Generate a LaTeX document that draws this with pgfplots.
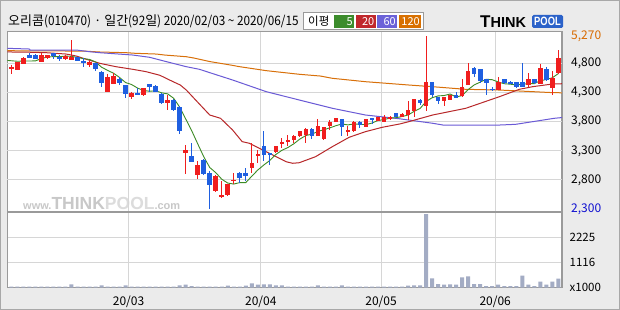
\documentclass[border=0pt]{standalone}
\usepackage{pgfplots}
\pgfplotsset{compat=1.18}
\usepackage{pgfplotstable}
\usepackage{graphicx}
\usepackage{fontspec}
\setmainfont{Noto Sans CJK KR}
\newfontfamily\narrowfont{Noto Sans CJK KR}[FakeStretch=0.905]
\newfontfamily\logofont{Liberation Sans}
\definecolor{bgc}{HTML}{EBEBEB}
\definecolor{outc}{HTML}{A8A8A8}
\definecolor{cup}{HTML}{F01E1E}
\definecolor{cdn}{HTML}{1F5FE0}
\definecolor{maA}{HTML}{3D8B25}
\definecolor{maB}{HTML}{B8282A}
\definecolor{maC}{HTML}{6A5AD6}
\definecolor{maD}{HTML}{D8700A}
\definecolor{cvol}{HTML}{A3ACC4}
\definecolor{gridc}{HTML}{D6D6D6}
\definecolor{framec}{HTML}{9A9A9A}
\definecolor{pblue}{HTML}{2B62C9}
\definecolor{lblue}{HTML}{1010D0}
\definecolor{lorange}{HTML}{D86A00}
\definecolor{wm}{HTML}{C8C8C8}
\definecolor{wmb}{HTML}{DCDCDC}
\definecolor{lgA}{HTML}{3C8C2C}
\definecolor{lgB}{HTML}{C0282C}
\definecolor{lgC}{HTML}{6B62D8}
\definecolor{lgD}{HTML}{D87000}

\pgfplotstableread{
i o h l c
0 4720 4770 4610 4730
1 4690 4830 4680 4815
2 4795 4900 4790 4890
5 4830 4980 4820 4940
6 4885 4950 4880 4940
9 4875 4935 4860 4925
10 4856 5197 4850 4913
13 4776 4840 4732 4828
16 4316 4612 4310 4570
17 4442 4630 4440 4583
20 4230 4300 4196 4293
22 4265 4380 4242 4374
26 4128 4259 4003 4174
29 3258 3406 2906 3309
31 2882 3121 2809 3053
34 2610 2880 2600 2866
35 2507 2781 2497 2542
36 2542 2730 2530 2723
37 2790 2923 2723 2805
40 2997 3435 2920 3093
41 3207 3321 3093 3252
44 3275 3390 3260 3377
45 3412 3520 3350 3446
46 3446 3577 3377 3492
47 3480 3577 3440 3560
48 3548 3640 3540 3633
49 3577 3690 3435 3679
51 3560 3845 3555 3731
52 3508 3715 3492 3708
53 3719 3833 3662 3793
54 3799 3870 3795 3862
56 3616 3719 3560 3650
57 3633 3810 3630 3799
59 3702 3850 3700 3845
61 3816 3880 3810 3872
62 3793 3918 3790 3872
63 3845 3890 3835 3879
65 3879 3950 3875 3935
66 3918 4162 3833 4003
67 3986 4190 3885 4186
69 4060 5270 3975 4476
72 4162 4225 4060 4220
73 4174 4265 4170 4259
75 4242 4527 4225 4391
76 4430 4800 4420 4669
81 4345 4572 4340 4476
86 4430 4630 4400 4527
88 4447 4788 4440 4715
90 4374 4675 4259 4544
91 4630 5027 4620 4885
}\upT

\pgfplotstableread{
i o h l c
3 4940 4970 4890 4895
4 4950 4960 4870 4875
7 4970 4975 4868 4925
8 4900 4940 4838 4890
11 4900 4910 4840 4845
12 4830 4885 4732 4825
14 4805 4810 4670 4710
15 4655 4660 4401 4460
18 4530 4572 4430 4460
19 4430 4435 4203 4276
21 4298 4374 4260 4265
23 4447 4450 4316 4396
24 4413 4420 4310 4316
25 4282 4285 4110 4118
27 4174 4180 3975 4003
28 4054 4060 3589 3633
30 3218 3435 3100 3104
32 3150 3155 2890 2894
33 2911 2951 2300 2712
38 2923 2930 2753 2838
39 2923 3009 2790 2866
42 3377 3633 3121 3235
43 3264 3270 3065 3230
50 3679 3690 3500 3560
55 3845 3850 3548 3708
58 3799 3805 3691 3748
60 3850 3870 3760 3840
64 3947 3950 3875 3879
68 4174 4190 4090 4128
70 4476 4480 4230 4259
71 4220 4225 4106 4157
74 4254 4300 4205 4213
77 4715 4730 4570 4612
78 4698 4705 4459 4503
79 4527 4530 4259 4459
80 4360 4400 4320 4352
82 4527 4530 4440 4459
83 4475 4500 4440 4465
84 4476 4480 4380 4401
85 4487 4800 4395 4401
87 4527 4530 4450 4459
89 4698 4740 4500 4515
}\dnT

\pgfplotstableread{
i v
0 45
1 45
2 45
3 45
4 45
5 45
6 45
7 45
8 45
9 45
10 147
11 45
12 45
13 45
14 45
15 103
16 45
17 45
18 45
19 103
20 45
21 45
22 45
23 45
24 45
25 45
26 45
27 45
28 103
29 132
30 74
31 45
32 45
33 45
34 45
35 45
36 88
37 45
38 45
39 88
40 191
41 132
42 147
43 147
44 103
45 103
46 45
47 45
48 45
49 45
50 45
51 103
52 45
53 45
54 45
55 103
56 45
57 45
58 45
59 45
60 45
61 45
62 45
63 45
64 45
65 45
66 88
67 103
68 103
69 3240
70 412
71 162
72 132
73 147
74 132
75 456
76 500
77 162
78 162
79 74
80 74
81 132
82 74
83 74
84 74
85 529
86 132
87 74
88 265
89 132
90 265
91 397
}\volT

\pgfplotstableread{
i v
-0.7 4850
1 4835
2 4838
3 4840
4 4841
5 4883
6 4908
7 4915
8 4914
9 4924
10 4919
11 4900
12 4880
13 4867
14 4824
15 4734
16 4679
17 4630
18 4557
19 4470
20 4436
21 4375
22 4334
23 4321
24 4329
25 4294
26 4276
27 4201
28 4049
29 3847
30 3645
31 3420
32 3199
33 3014
34 2926
35 2813
36 2747
37 2730
38 2755
39 2755
40 2865
41 2971
42 3057
43 3135
44 3237
45 3308
46 3356
47 3421
48 3502
49 3562
50 3585
51 3633
52 3662
53 3694
54 3731
55 3760
56 3744
57 3762
58 3753
59 3750
60 3776
61 3821
62 3835
63 3862
64 3868
65 3887
66 3914
67 3976
68 4026
69 4146
70 4210
71 4241
72 4248
73 4274
74 4222
75 4248
76 4350
77 4429
78 4478
79 4527
80 4519
81 4480
82 4450
83 4442
84 4431
85 4440
86 4451
87 4451
88 4501
89 4523
90 4552
91 4624
}\maAT

\pgfplotstableread{
i v
-0.7 4995
3 4990
5.8 4982
9.1 4959
10.8 4925
12.5 4868
14.7 4800
17.4 4742
20.2 4697
22.4 4657
24.7 4595
26.9 4485
28.1 4428
29.1 4342
31.3 4100
33 3914
34.8 3857
36.8 3657
38.4 3457
39.6 3429
42.4 3285
45.7 3113
46.8 3086
47.9 3096
50.6 3199
53.4 3371
56.2 3532
58.9 3628
61.7 3703
64.6 3760
66.1 3799
70.1 3914
75.6 4029
81.2 4228
84.5 4354
86.7 4399
90 4445
91.6 4450
}\maBT

\pgfplotstableread{
i v
-0.7 5057
3 5045
3.1 5028
10.8 5028
13 4999
14.7 4982
20.2 4942
23 4903
25.8 4828
29.1 4742
31.3 4697
33 4640
36.8 4514
42.4 4314
47.9 4171
53.4 4029
58.9 3914
64.5 3850
70.1 3772
71.8 3742
81.2 3742
83.9 3754
86.7 3799
90.3 3857
91.6 3870
}\maCT

\pgfplotstableread{
i v
-0.7 5016
9.1 5011
11.8 5011
14.7 4994
19.1 4982
20.7 4971
24.1 4959
25.5 4942
29.1 4913
30.4 4890
33 4830
36.8 4765
37.8 4745
42.4 4674
47.9 4612
51.4 4582
53.4 4543
58.9 4485
64.6 4440
66.1 4428
70.1 4399
75.6 4354
81.2 4342
90.3 4296
91.6 4295
}\maDT

\begin{document}
\begin{tikzpicture}
\path[use as bounding box] (0pt,0pt) rectangle (620pt,310pt);
\fill[bgc] (0pt,0pt) rectangle (620pt,310pt);
\draw[outc, line width=1pt] (0.5pt,0.5pt) rectangle (619.5pt,309.5pt);
\fill[white] (7.3pt,22.3pt) rectangle (562pt,278.3pt);
% watermark
\node[anchor=base west, inner sep=0pt] at (23pt,100.5pt) {\logofont\bfseries
  \textcolor{wm}{\fontsize{11}{11}\selectfont www.}%
  \textcolor{wm}{\fontsize{17.5}{17.5}\selectfont THINK}%
  \textcolor{wmb}{\fontsize{17.5}{17.5}\selectfont POOL}%
  \textcolor{wm}{\fontsize{11}{11}\selectfont .com}};

\begin{axis}[
  name=price,
  at={(7.3pt,98pt)}, anchor=south west, scale only axis,
  width=554.7pt, height=180.3pt,
  xmin=-0.68, xmax=91.61, ymin=2251, ymax=5342,
  axis line style={draw=framec, line width=1.2pt},
  xtick={19.5,41.5,61.5,80.5}, xticklabels={},
  xmajorgrids,
  ytick={2300,2800,3300,3800,4300,4800,5270},
  yticklabels={{\textcolor{lblue}{2,300}},{2,800},{3,300},{3,800},{4,300},{4,800},{\textcolor{lorange}{5,270}}},
  extra y ticks={2800,3300,3800,4300,4800},
  extra y tick labels={},
  extra y tick style={grid=major},
  grid style={draw=gridc, line width=1pt},
  major tick length=0pt,
  yticklabel pos=right,
  yticklabel style={anchor=west, inner sep=0pt, xshift=9pt, font=\fontsize{12}{12}\selectfont},
  /pgf/number format/assume math mode=true,
]
\addplot[maD, line width=1pt] table[x=i,y=v]{\maDT};
\addplot[maC, line width=1pt] table[x=i,y=v]{\maCT};
\addplot[maB, line width=1pt] table[x=i,y=v]{\maBT};
\addplot[maA, line width=0.9pt] table[x=i,y=v]{\maAT};
% wicks
\addplot[draw=none, error bars/.cd, y dir=both, y explicit, error mark=none,
  error bar style={draw=cup, line width=1pt}]
  table[x=i, y expr={(\thisrow{h}+\thisrow{l})/2}, y error expr={(\thisrow{h}-\thisrow{l})/2}]{\upT};
\addplot[draw=none, error bars/.cd, y dir=both, y explicit, error mark=none,
  error bar style={draw=cdn, line width=1pt}]
  table[x=i, y expr={(\thisrow{h}+\thisrow{l})/2}, y error expr={(\thisrow{h}-\thisrow{l})/2}]{\dnT};
% bodies
\addplot[draw=none, error bars/.cd, y dir=both, y explicit, error mark=none,
  error bar style={draw=cup, line width=4.6pt}]
  table[x=i, y expr={(\thisrow{o}+\thisrow{c})/2}, y error expr={max(abs(\thisrow{c}-\thisrow{o})/2,9)}]{\upT};
\addplot[draw=none, error bars/.cd, y dir=both, y explicit, error mark=none,
  error bar style={draw=cdn, line width=4.6pt}]
  table[x=i, y expr={(\thisrow{o}+\thisrow{c})/2}, y error expr={max(abs(\thisrow{c}-\thisrow{o})/2,9)}]{\dnT};
\end{axis}

\begin{axis}[
  name=vol,
  at={(7.3pt,22.3pt)}, anchor=south west, scale only axis,
  width=554.7pt, height=75.7pt,
  xmin=-0.68, xmax=91.61, ymin=0, ymax=3330,
  axis line style={draw=framec, line width=1.2pt},
  xtick={19.5,41.5,61.5,80.5}, xticklabels={20/03,20/04,20/05,20/06},
  xticklabel style={anchor=north, inner sep=0pt, yshift=-8pt, font=\fontsize{12}{12}\selectfont},
  xmajorgrids, ymajorgrids,
  ytick={1116,2225}, yticklabels={1116,2225},
  extra y ticks={0}, extra y tick labels={x1000},
  extra y tick style={grid=none},
  grid style={draw=gridc, line width=1pt},
  major tick length=0pt,
  yticklabel pos=right,
  yticklabel style={anchor=west, inner sep=0pt, xshift=7.5pt, font=\fontsize{11.5}{11.5}\selectfont},
  /pgf/number format/assume math mode=true,
]
\addplot[ybar, bar width=4pt, fill=cvol, draw=none] table[x=i,y=v]{\volT};
\end{axis}

% header
\node[anchor=base west, inner sep=0pt] at (8pt,284pt) {\fontsize{13}{13}\selectfont 오리콤{\narrowfont(010470)} · 일간{\narrowfont(92}일{\narrowfont) 2020/02/03 \textasciitilde{} 2020/06/15}};
\draw[framec, fill=white, line width=1pt] (303.6pt,280pt) rectangle (423pt,297.3pt);
\node[anchor=base west, inner sep=0pt] at (308pt,284pt) {\fontsize{11.5}{11.5}\selectfont 이평};
\fill[lgA] (334pt,281.7pt) rectangle (354pt,295pt);
\fill[lgB] (355.5pt,281.7pt) rectangle (375.5pt,295pt);
\fill[lgC] (377pt,281.7pt) rectangle (397pt,295pt);
\fill[lgD] (399pt,281.7pt) rectangle (421pt,295pt);
\node[anchor=base east, inner sep=0pt, text=white] at (353pt,284.3pt) {\fontsize{11}{11}\selectfont 5};
\node[anchor=base east, inner sep=0pt, text=white] at (374.5pt,284.3pt) {\fontsize{11}{11}\selectfont 20};
\node[anchor=base east, inner sep=0pt, text=white] at (396pt,284.3pt) {\fontsize{11}{11}\selectfont 60};
\node[anchor=base east, inner sep=0pt, text=white] at (420pt,284.3pt) {\fontsize{11}{11}\selectfont 120};
% logo
\node[anchor=base west, inner sep=0pt] at (480pt,282.5pt) {\logofont\bfseries\fontsize{17}{17}\selectfont T\fontsize{14.5}{14.5}\selectfont HINK};
\fill[pblue, rounded corners=1.5pt] (532pt,282pt) rectangle (563pt,295pt);
\node[anchor=base, inner sep=0pt, text=white] at (547.5pt,284.2pt) {\logofont\bfseries\fontsize{12}{12}\selectfont\scalebox{0.78}[1]{POOL}};
\end{tikzpicture}
\end{document}
